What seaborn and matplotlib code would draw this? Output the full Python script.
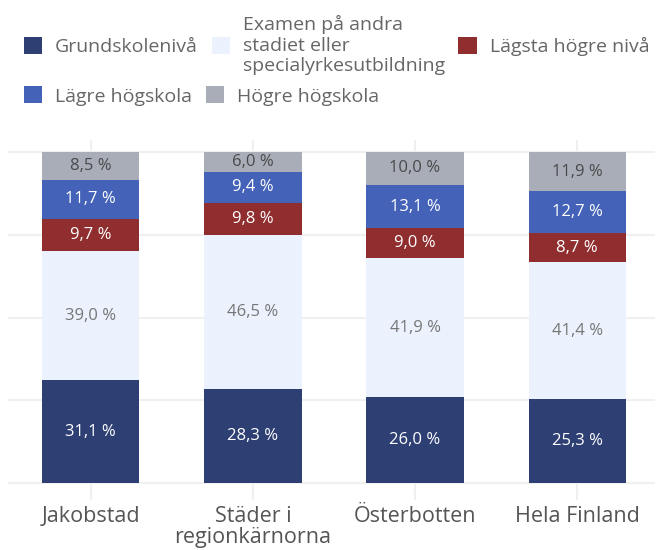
import matplotlib
matplotlib.use("Agg")
import matplotlib.pyplot as plt
import seaborn as sns
import pandas as pd
import numpy as np
from matplotlib.patches import Patch

categories = ["Jakobstad", "Städer i\nregionkärnorna", "Österbotten", "Hela Finland"]
series_names = ["Grundskolenivå",
                "Examen på andra\nstadiet eller\nspecialyrkesutbildning",
                "Lägsta högre nivå",
                "Lägre högskola",
                "Högre högskola"]
grundskola = [31.1, 28.3, 26.0, 25.3]
andra_stadiet = [39.0, 46.5, 41.9, 41.4]
lagsta_hogre = [9.7, 9.8, 9.0, 8.7]
lagre_hogskola = [11.7, 9.4, 13.1, 12.7]
hogre_hogskola = [8.5, 6.0, 10.0, 11.9]

colors = ["#2e3f74", "#ebf2fd", "#902e2f", "#4463b8", "#a8adb8"]
label_colors = ["white", "#767676", "white", "white", "#4a4a4a"]

sns.set_theme(style="white")
plt.rcParams['font.family'] = ['Open Sans', 'DejaVu Sans']

fig = plt.figure(figsize=(6.59, 5.5), dpi=100)
ax = fig.add_axes([8/659, 50/550, 647/659, 360/550])

all_series = [grundskola, andra_stadiet, lagsta_hogre, lagre_hogskola, hogre_hogskola]
bottom = np.zeros(len(categories))
for name, vals, c, lc in zip(series_names, all_series, colors, label_colors):
    df = pd.DataFrame({"cat": categories, "val": vals})
    sns.barplot(data=df, x="cat", y="val", ax=ax, color=c, bottom=bottom,
                width=0.6, saturation=1, edgecolor="none", linewidth=0, zorder=3)
    cont = ax.containers[-1]
    txts = ax.bar_label(cont, labels=[f"{v:.1f} %".replace(".", ",") for v in vals],
                        label_type="center", fontsize=12)
    for t in txts:
        t.set_color(lc)
        t.set_zorder(6)
    bottom = bottom + np.array(vals)

ax.set_ylim(-5.1, 103.6)
ax.set_xlim(-0.51, 3.48)
ax.set_yticks([0, 25, 50, 75, 100])
ax.set_yticklabels([])
ax.tick_params(axis="y", length=0)
ax.tick_params(axis="x", length=0, labelsize=15.5, labelcolor="#555555", pad=4)
for lab in ax.get_xticklabels():
    lab.set_linespacing(1.0)
ax.set_xlabel("")
ax.set_ylabel("")
ax.grid(True, axis="both", color="#f0f0f0", linewidth=1.5, zorder=0)
ax.set_axisbelow(True)
for s in ax.spines.values():
    s.set_visible(False)

handles = [Patch(facecolor=c, edgecolor="none") for c in colors]
leg_kw = dict(frameon=False, handlelength=0.95, handleheight=0.95,
              handletextpad=0.65, columnspacing=0.7, labelcolor="#666666",
              prop={"size": 14})
leg1 = fig.legend([handles[0], handles[1], handles[2]],
                  [series_names[0], series_names[1], series_names[2]],
                  ncol=3, loc="center left", bbox_to_anchor=(24/659, 1 - 45/550),
                  borderaxespad=0, borderpad=0, **leg_kw)
leg2 = fig.legend([handles[3], handles[4]], [series_names[3], series_names[4]],
                  ncol=2, loc="center left", bbox_to_anchor=(24/659, 1 - 96/550),
                  borderaxespad=0, borderpad=0, **leg_kw)

fig.savefig("out.png", dpi=100)
